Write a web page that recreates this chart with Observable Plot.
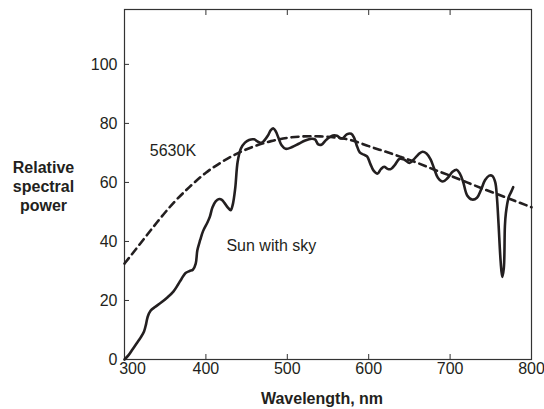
<!DOCTYPE html>
<html>
<head>
<meta charset="utf-8">
<script src="https://cdn.jsdelivr.net/npm/d3@7"></script>
<script src="https://cdn.jsdelivr.net/npm/@observablehq/plot@0.6"></script>
<style>
  html, body { margin: 0; padding: 0; background: #fff; }
  #chart svg { display: block; }
</style>
</head>
<body>
<div id="chart"></div>
<script>
// Measured spectrum: "Sun with sky"
const sunWavelength = [300,305,310,315,320,324,326.5,328.5,332,337,345,353,360,366,370,375,380,384,387.5,389.5,393,396.5,402,405,408,412,416.5,420,423,427,430.5,433,436,439,443,448,453,459,464,468,472,476,480,483,486,489,493,498,506,514,522,530,534,538,542,548,556,561,565,568,573,578.5,582,585,589,594,598,602,606,611,615,619,623,627,632,638,644,650,655,661,666,671,676,680,685,691,697,703,708,712,716,721,727,733,738,743,748,752,755.5,757.5,759.5,762,764,766,767.3,768.5,772,775,777.5];
const sunPower = [0,1.5,3.5,5.5,7.5,9.5,12,14.5,16.5,17.7,19.3,21.1,23,25.5,27.3,29.3,30,30.4,32.5,37,40.5,43.5,46.5,48.5,51.5,53.6,54.4,54,53,51.5,50.6,52.5,58,67,71.5,73.5,74.4,74.6,73.8,73.4,74.3,75.8,77.8,78.3,77.2,75.2,72.6,71.4,72,73.1,74.2,74.8,74.6,72.9,72.8,74.5,75.9,75.8,75,74.9,76.3,76.5,75.2,72.8,70.2,69.4,68.8,66.3,64,63,64.5,65.3,64.6,64.5,65.9,68,67.7,66.6,67.7,69.5,70.4,69.8,67.8,65,61.6,60.3,61.5,63.6,64.3,63,60.2,55.6,54.2,54.8,57.5,60.8,62.3,62.2,60,55,46,33.6,28,31,45,49.5,55,56.8,58.4];

// Blackbody 5630K curve
const bbWavelength = [300,320,340,360,380,400,420,440,460,480,500,520,540,560,580,600,620,640,660,680,700,720,740,760,780,800];
const bbPower = [32.5,39.5,46.5,53,58.5,63.3,67,70,72.3,74,75.1,75.6,75.6,75.2,74.2,72.3,70.5,68.6,66.6,64.4,62.3,60.1,57.9,55.8,53.7,51.6];

const xTicks = [300,400,500,600,700,800];
const xInnerTicks = [400,500,600,700];
const yTicks = [0,20,40,60,80,100];

const labels = [
  {text: "5630K", x: 359.5, y: 70.6},
  {text: "Sun with sky", x: 480.4, y: 38.4}
];

const sun = sunWavelength.map((w, i) => ({w, p: sunPower[i]}));
const bb = bbWavelength.map((w, i) => ({w, p: bbPower[i]}));

const ink = "#231f20";

const chart = Plot.plot({
  width: 544,
  height: 409,
  marginLeft: 124,
  marginRight: 13,
  marginTop: 9,
  marginBottom: 50,
  style: {fontFamily: "'Liberation Sans', Arial, sans-serif", fontSize: "16px", color: ink, background: "#fff"},
  x: {domain: [300, 800]},
  y: {domain: [0, 118.6]},
  marks: [
    Plot.frame({stroke: "#333", strokeWidth: 1.2}),
    Plot.axisY({ticks: yTicks, tickSize: -5, tickPadding: 12, label: null, stroke: "#333", fontSize: 16}),
    Plot.axisX({ticks: xInnerTicks, anchor: "bottom", tickSize: -5, tickFormat: () => "", label: null, stroke: "#333"}),
    Plot.axisX({ticks: xInnerTicks, anchor: "top", tickSize: -5, tickFormat: () => "", label: null, stroke: "#333"}),
    Plot.axisX({ticks: xTicks.slice(1), anchor: "bottom", tickSize: 0, tickPadding: 3, label: null, fontSize: 16}),
    Plot.axisX({ticks: xTicks.slice(0, 1), anchor: "bottom", tickSize: 0, tickPadding: 3, dx: 8, label: null, fontSize: 16}),
    Plot.line(bb, {x: "w", y: "p", stroke: ink, strokeWidth: 2.6, strokeDasharray: "7,5", curve: "natural"}),
    Plot.line(sun, {x: "w", y: "p", stroke: ink, strokeWidth: 2.6, curve: "catmull-rom"}),
    Plot.text(labels, {x: "x", y: "y", text: "text", fill: ink, fontSize: 16}),
    Plot.text(["Relative\nspectral\npower"], {frameAnchor: "left", dx: -81, dy: 1, fontWeight: "bold", fontSize: 16, lineHeight: 1.19, textAnchor: "middle", fill: ink}),
    Plot.text(["Wavelength, nm"], {frameAnchor: "bottom", dx: -6, dy: 44, fontWeight: "bold", fontSize: 16, fill: ink})
  ]
});
document.getElementById("chart").appendChild(chart);
</script>
</body>
</html>
